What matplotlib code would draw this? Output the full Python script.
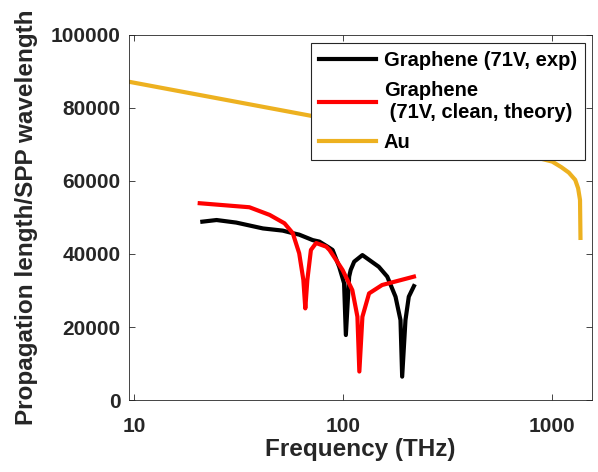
import numpy as np
import matplotlib
matplotlib.use('Agg')
import matplotlib.pyplot as plt
import matplotlib.ticker as mticker

plt.rcParams['font.family'] = ['Liberation Sans', 'DejaVu Sans']
plt.rcParams['font.weight'] = 'bold'

# graphene, experiment (71 V)
exp_freq = [21.2, 24.8, 30.8, 41.3, 51.4, 57.4, 61.6, 71.5, 76.9, 84.2, 89.0, 95.7,
            101.0, 103.0, 106.8, 108.6, 112.9, 123.6, 148.0, 162.5, 178.0, 188.0,
            191.5, 198.6, 206.0, 218.0]
exp_val = [48850, 49300, 48600, 47000, 46400, 45700, 45300, 43800, 43400, 42000, 41100, 36500,
           32000, 17800, 33800, 35600, 37900, 39700, 36500, 33800, 28300, 21900,
           6400, 21900, 28300, 31200]

# graphene, clean theory (71 V)
th_freq = [20.6, 35.6, 44.5, 52.4, 57.4, 61.6, 64.5, 65.9, 67.4, 70.1, 74.2, 83.0, 86.0,
           92.4, 99.4, 110.6, 117.0, 119.5, 123.6, 133.0, 153.5, 218.0]
th_val = [53900, 52800, 50700, 48400, 45700, 40200, 32900, 25100, 32900, 41100, 43000, 42000, 41100,
          38400, 35600, 30100, 22800, 7800, 22800, 29200, 31500, 33800]

# gold
au_freq = [9.6, 30, 100, 300, 600, 857, 1000, 1104, 1200, 1288, 1330, 1358, 1365]
au_val = [87100, 81800, 76200, 71150, 67950, 66300, 65300, 63800, 62300, 60300, 58000, 54800, 44400]

labels = ['Graphene (71V, exp)', 'Graphene\n (71V, clean, theory)', 'Au']
colors = ['black', '#FF0000', '#EDB120']

gray = (0.15, 0.15, 0.15)

fig = plt.figure(figsize=(5.98, 4.72), dpi=100)
ax = fig.add_axes([0.216, 0.1525, 0.774, 0.7735])

ax.plot(exp_freq, exp_val, color=colors[0], lw=3, label=labels[0])
ax.plot(th_freq, th_val, color=colors[1], lw=3, label=labels[1])
ax.plot(au_freq, au_val, color=colors[2], lw=3, label=labels[2])

ax.set_xscale('log')
ax.set_xlim(9.47, 1550)
ax.set_ylim(0, 100000)
ax.set_xticks([10, 100, 1000])
ax.xaxis.set_major_formatter(mticker.FormatStrFormatter('%d'))
ax.xaxis.set_minor_locator(mticker.NullLocator())
ax.set_yticks(np.arange(0, 100001, 20000))
ax.yaxis.set_major_formatter(mticker.FormatStrFormatter('%d'))

ax.tick_params(direction='in', top=True, right=True, labelsize=15, colors=gray,
               length=4, width=0.6)
ax.tick_params(axis='y', pad=6)
ax.tick_params(axis='x', pad=12)
for lab in ax.get_xticklabels() + ax.get_yticklabels():
    lab.set_fontweight('bold')
for sp in ax.spines.values():
    sp.set_color(gray)
    sp.set_linewidth(0.6)

ax.set_xlabel('Frequency (THz)', fontsize=17.5, fontweight='bold', color=gray, labelpad=2)
ax.set_ylabel('Propagation length/SPP wavelength', fontsize=17.5, fontweight='bold', color=gray, labelpad=9)

leg = ax.legend(loc='upper right', bbox_to_anchor=(0.985, 0.978), borderaxespad=0,
                handlelength=2.8, fancybox=False, framealpha=1,
                prop={'weight': 'bold', 'size': 14.5}, labelspacing=0.55, handletextpad=0.4)
leg.get_frame().set_edgecolor(gray)
leg.get_frame().set_linewidth(0.8)

fig.savefig('out.png', dpi=100)
